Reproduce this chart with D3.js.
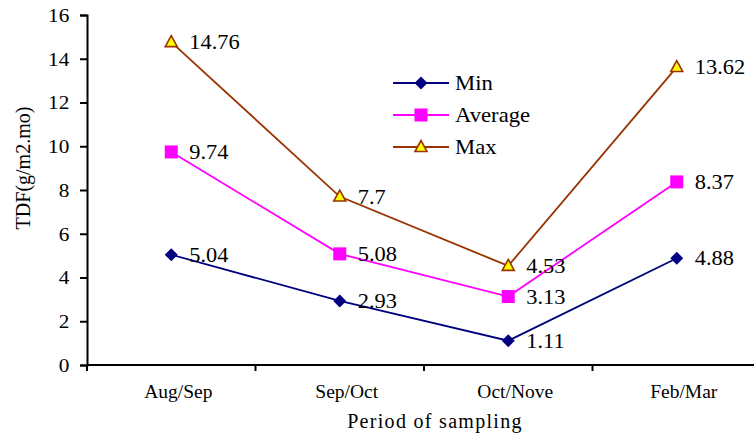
<!DOCTYPE html>
<html><head><meta charset="utf-8">
<script src="https://cdn.jsdelivr.net/npm/d3@7"></script>
<style>body{margin:0;background:#fff}svg{display:block}svg text{font-family:"Liberation Serif","Times New Roman",serif !important;fill:#000}</style>
</head><body><svg id="c" width="754" height="437"></svg>
<script>
const categories = ["Aug/Sep","Sep/Oct","Oct/Nove","Feb/Mar"];
const minValues = [5.04, 2.93, 1.11, 4.88];
const avgValues = [9.74, 5.08, 3.13, 8.37];
const maxValues = [14.76, 7.7, 4.53, 13.62];
const yTicks = [0,2,4,6,8,10,12,14,16];
const seriesNames = ["Min","Average","Max"];

const FONT = "Liberation Serif";
const svg = d3.select("#c");
const m = {l:87, t:15, b:365};
const x = d3.scaleBand().domain(categories).range([m.l, m.l+4*168.5]);
const y = d3.scaleLinear().domain([0,16]).range([m.b, m.t]);

// axes
const yAxis = svg.append("g").attr("transform",`translate(${m.l},0)`)
  .call(d3.axisLeft(y).tickValues(yTicks).tickSize(7).tickFormat(d3.format("d")))
  .attr("font-family",FONT);
yAxis.select(".domain").attr("stroke","#000").attr("stroke-width",2);
yAxis.selectAll(".tick line").attr("stroke","#000").attr("stroke-width",2);
yAxis.selectAll(".tick text").attr("font-size",18).attr("font-family",FONT)
  .attr("x",-15).attr("dy","0.35em")
  .attr("transform","scale(1.18,1)");

const xAxis = svg.append("g").attr("transform",`translate(0,${m.b})`);
xAxis.append("line").attr("x1",m.l).attr("x2",754).attr("stroke","#000").attr("stroke-width",2);
const bounds = categories.map(c=>x(c));
xAxis.selectAll("line.tk").data(bounds).join("line").attr("class","tk")
  .attr("x1",d=>d).attr("x2",d=>d).attr("y1",0).attr("y2",6).attr("stroke","#000").attr("stroke-width",2);
xAxis.selectAll("text.cat").data(categories).join("text").attr("class","cat")
  .attr("x",d=>x(d)+x.bandwidth()/2+7).attr("y",33).attr("font-family",FONT)
  .attr("text-anchor","middle").attr("font-size",19.5).text(d=>d);

svg.append("text").attr("x",435).attr("y",428).attr("text-anchor","middle").attr("font-family",FONT)
  .attr("font-size",20).attr("letter-spacing",1.3).text("Period of sampling");
svg.append("text").attr("transform","translate(30,168) rotate(-90)").attr("text-anchor","middle").attr("font-family",FONT)
  .attr("font-size",20).text("TDF(g/m2.mo)");

const series = [
  {name:seriesNames[0], values:minValues, color:"#000080", marker:"diamond"},
  {name:seriesNames[1], values:avgValues, color:"#FF00FF", marker:"square"},
  {name:seriesNames[2], values:maxValues, color:"#993300", marker:"triangle"}
];
const cx = c => x(c)+x.bandwidth()/2;
const line = d3.line().x((d,i)=>cx(categories[i])).y(d=>y(d));

function drawMarker(g, s, px, py){
  if(s.marker==="diamond"){
    g.append("path").attr("d",`M${px},${py-6.5}L${px+6.5},${py}L${px},${py+6.5}L${px-6.5},${py}Z`).attr("fill",s.color);
  } else if(s.marker==="square"){
    g.append("rect").attr("x",px-6.5).attr("y",py-6.5).attr("width",13).attr("height",13).attr("fill",s.color);
  } else {
    g.append("path").attr("d",`M${px},${py-6.5}L${px+6},${py+4.5}L${px-6},${py+4.5}Z`)
      .attr("fill","#FFFF00").attr("stroke",s.color).attr("stroke-width",1.6);
  }
}

series.forEach(s=>{
  const g = svg.append("g");
  g.append("path").datum(s.values).attr("d",line).attr("fill","none").attr("stroke",s.color).attr("stroke-width",1.8);
  s.values.forEach((v,i)=>{
    drawMarker(g, s, cx(categories[i]), y(v));
    g.append("text").attr("transform",`translate(${cx(categories[i])+18},${y(v)+7}) scale(1.12,1)`)
      .attr("font-family",FONT).attr("font-size",20).text(String(v));
  });
});

// legend
const lg = svg.append("g");
series.forEach((s,i)=>{
  const ly = 83 + i*32;
  lg.append("line").attr("x1",393).attr("x2",449).attr("y1",ly).attr("y2",ly).attr("stroke",s.color).attr("stroke-width",1.8);
  drawMarker(lg, s, 421, ly);
  lg.append("text").attr("transform",`translate(455,${ly+7}) scale(1.08,1)`).attr("font-family",FONT).attr("font-size",21).text(s.name);
});
</script></body></html>
